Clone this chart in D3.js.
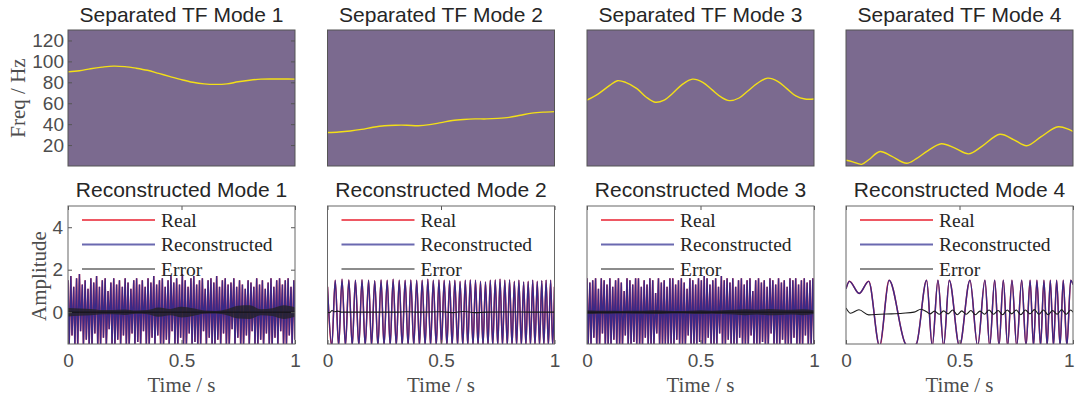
<!DOCTYPE html>
<html>
<head>
<meta charset="utf-8">
<script src="https://cdn.jsdelivr.net/npm/d3@7"></script>
<style>
body { margin: 0; background: #fff; }
svg { display: block; }
</style>
</head>
<body>
<div id="vis"></div>
<script>

// ---- data ----

// ridge (instantaneous frequency, Hz) of each separated mode
const ifT1 = [0,.05,.1,.15,.2,.25,.3,.35,.4,.45,.5,.55,.6,.65,.7,.75,.8,.85,.9,.95,1]
const ifF1 = [90,91,93,94.5,95.5,95,93.5,91.5,88.5,85.5,82.5,80,78.5,78,78.5,80.5,82,83,83.2,83.2,83]
const ifT2 = ifT1
const ifF2 = [32,32.5,33.5,35,37,38.5,39,39,38.5,39.5,41.5,43.5,44.5,45,45,45.5,46.5,48.5,50.5,51.5,52]
const ifT3 = [0,.05,.1,.134,.17,.22,.26,.3,.34,.38,.42,.465,.51,.55,.59,.627,.67,.71,.75,.796,.84,.88,.92,.96,1]
const ifF3 = [63,69,77,81.5,80,74,66,61,63,70,78,83,80,73,66,62.5,65,72,79,84,81,74,67,64,64]
const ifT4 = [0,.03,.069,.1,.15,.2,.267,.31,.36,.42,.48,.54,.6,.678,.74,.796,.86,.935,1]
const ifF4 = [5.5,4,1.6,6,13.8,9.5,2.6,7,14.5,21.3,17,11.6,19,30.3,25,19.4,28,37.5,33]

// mode 1 and 3 look like dense stripes: top / bottom of each stripe
const m1Hi = [1.5,1.7,1.2,1.6,1.8,1.3,1.5,1.1,1.6,1.4,
  1.7,1.2,1.5,1.6,1.0,1.4,1.6,1.3,1.5,1.2,
  1.6,1.4,1.1,1.5,1.6,1.3,1.5,1.2,1.6,1.4,
  1.7,1.3,1.5,1.6,1.2,1.5,1.7,1.4,1.6,1.3,
  1.8,1.5,1.2,1.6,1.7,1.3,1.5,1.6,1.1,1.5,
  1.6,1.4,1.7,1.2,1.5,1.6,1.3,1.4,1.6,1.2,
  1.5,1.3,1.1,1.5,1.4,1.2,1.6,1.3,1.5,1.1,
  1.4,1.6,1.2,1.5,1.6,1.3,1.5,1.6,1.2,1.5]
const m1Lo = [-1.6,-1.1,-1.6,-1.6,-0.9,-1.6,-1.3,-1.6,-1.6,-1.0,
  -1.6,-1.6,-1.2,-1.6,-0.8,-1.6,-1.6,-1.3,-1.6,-1.1,
  -1.6,-1.6,-1.0,-1.6,-1.4,-1.6,-0.9,-1.6,-1.6,-1.2,
  -1.6,-1.1,-1.6,-1.6,-1.3,-1.6,-0.9,-1.6,-1.6,-1.2,
  -1.6,-1.6,-1.0,-1.6,-1.4,-1.6,-1.6,-0.9,-1.6,-1.2,
  -1.6,-1.6,-1.3,-1.6,-1.0,-1.6,-1.6,-0.8,-1.6,-1.2,
  -1.6,-1.6,-1.1,-1.6,-0.9,-1.6,-1.6,-1.3,-1.6,-1.0,
  -1.6,-1.6,-1.2,-1.6,-0.9,-1.6,-1.6,-1.1,-1.6,-1.3]
const m3Hi = [1.6,1.4,1.5,1.6,1.1,1.6,1.5,1.3,1.6,1.2,
  1.5,1.6,1.4,1.0,1.6,1.5,1.3,1.6,1.6,1.2,
  1.5,1.3,1.6,1.5,0.9,1.6,1.4,1.5,1.2,1.6,
  1.6,1.3,1.5,1.6,1.4,1.1,1.6,1.5,1.3,1.6,
  1.5,1.7,1.6,1.3,1.5,1.6,1.2,1.7,1.5,1.6,
  1.4,1.6,1.2,1.5,1.6,1.3,1.5,1.6,1.0,1.5,
  1.6,1.4,1.5,1.2,1.6,1.5,1.3,1.6,1.4,1.5,
  1.2,1.6,1.5,1.6,1.3,1.5,1.6,1.4,1.5,1.6]
const m3Lo = [-1.6,-1.6,-1.2,-1.6,-1.6,-1.0,-1.6,-1.6,-1.6,-1.3,
  -1.6,-1.6,-1.6,-1.1,-1.6,-1.6,-1.4,-1.6,-1.6,-1.6,
  -1.2,-1.6,-1.6,-1.6,-1.0,-1.6,-1.6,-1.5,-1.6,-1.6,
  -1.6,-1.3,-1.6,-1.6,-1.6,-1.1,-1.6,-1.6,-1.6,-1.4,
  -1.6,-1.6,-1.2,-1.6,-1.6,-1.6,-1.0,-1.6,-1.6,-1.3,
  -1.6,-1.6,-1.6,-1.2,-1.6,-1.6,-1.6,-1.1,-1.6,-1.6,
  -1.6,-1.4,-1.6,-1.6,-1.0,-1.6,-1.6,-1.6,-1.3,-1.6,
  -1.6,-1.6,-1.2,-1.6,-1.6,-1.6,-1.1,-1.6,-1.6,-1.6]

// error envelopes of mode 1 and 3 (fast oscillating, drawn as a band)
const envT = [0,.05,.1,.15,.2,.25,.3,.35,.4,.45,.5,.55,.6,.65,.7,.75,.8,.85,.9,.95,1]
const m1Err = [.2,.17,.15,.1,.1,.13,.08,.1,.22,.15,.25,.18,.08,.06,.14,.3,.32,.14,.18,.32,.22]
const m3Err = [.09,.07,.07,.06,.07,.07,.09,.07,.06,.07,.09,.07,.09,.11,.14,.11,.15,.13,.11,.14,.09]

// mode 2: extrema of the reconstructed waveform
const m2T = [0,.019,.034,.049,.064,.079,.094,.109,.123,.138,.152,.166,.181,.194,.208,.222,.236,.249,.263,.276,
  .289,.303,.316,.329,.342,.355,.367,.380,.393,.405,.417,.430,.442,.454,.466,.479,.491,.502,.514,.526,
  .538,.549,.561,.573,.584,.596,.607,.618,.629,.641,.652,.663,.674,.685,.696,.707,.717,.728,.739,.750,
  .760,.771,.781,.792,.802,.813,.823,.833,.843,.854,.864,.874,.884,.894,.904,.914,.924,.934,.944,.953,
  .963,.973,.983,.992,1]
const m2V = [1.2,-1.6,1.5,-1.6,1.55,-1.6,1.52,-1.6,1.5,-1.6,1.53,-1.6,1.5,-1.6,1.48,-1.6,1.52,-1.6,1.5,-1.6,
  1.55,-1.6,1.5,-1.6,1.5,-1.6,1.52,-1.6,1.5,-1.6,1.5,-1.6,1.55,-1.6,1.5,-1.6,1.52,-1.6,1.5,-1.6,
  1.48,-1.6,1.5,-1.6,1.45,-1.6,1.5,-1.6,1.52,-1.6,1.5,-1.6,1.45,-1.6,1.42,-1.6,1.5,-1.6,1.52,-1.6,
  1.55,-1.6,1.5,-1.6,1.52,-1.6,1.45,-1.6,1.5,-1.6,1.42,-1.6,1.45,-1.6,1.5,-1.6,1.45,-1.6,1.48,-1.6,
  1.5,-1.6,1.5,-1.6,1.2]
const m2ErrT = [0,.01,.02,.03,.045,.06,.3,.35,.4,.5,.55,.6,.65,.7,.8,.9,1]
const m2ErrV = [0,-.02,.08,.02,.05,0,0,.02,0,.02,-.02,.03,-.02,0,.01,0,0]

// mode 4: extrema of the reconstructed waveform
const m4T = [0,.015,.058,.100,.148,.190,.262,.285,.310,.355,.380,.405,.430,.455,.500,.546,.580,.612,.633,.655,
  .674,.693,.712,.731,.752,.774,.793,.811,.826,.841,.857,.872,.886,.900,.914,.928,.943,.957,.973,.990,1]
const m4V = [1.1,1.45,0.88,1.45,-1.6,1.5,-1.5,-1.65,-1.5,1.5,-1.6,1.5,-1.6,1.5,-1.6,1.5,-1.6,1.5,-1.6,1.5,
  -1.6,1.5,-1.6,1.5,-1.6,1.5,-1.6,1.5,-1.6,1.5,-1.6,1.5,-1.6,1.5,-1.6,1.5,-1.6,1.5,-1.6,1.5,1.3]
const m4ErrT = [0,.02,.057,.1,.15,.2,.25,.3,.33,.355,.37,.39,.41,.43,.45,.47,.49,.51,.53,.55,.57,.59,.61,
  .63,.65,.67,.69,.71,.73,.75,.77,.79,.81,.83,.85,.87,.89,.91,.93,.95,.97,.99,1]
const m4ErrV = [.2,-.05,.11,-.13,-.1,-.08,-.05,0,.14,.02,-.08,.05,-.1,.06,-.08,.1,-.12,.06,-.1,.08,-.12,.05,-.1,
  .1,-.1,.08,-.12,.1,-.08,.1,-.12,.1,-.08,.12,-.1,.1,-.12,.08,-.1,.12,-.1,.1,0]

const topTitles = ["Separated TF Mode 1", "Separated TF Mode 2", "Separated TF Mode 3", "Separated TF Mode 4"]
const botTitles = ["Reconstructed Mode 1", "Reconstructed Mode 2", "Reconstructed Mode 3", "Reconstructed Mode 4"]
const legendNames = ["Real", "Reconstructed", "Error"]
const freqTicks = [20, 40, 60, 80, 100, 120]
const ampTicks = [0, 2, 4]
const timeTicks = [0, 0.5, 1]

// ---- layout ----
config = {}
config.width = 1075
config.height = 405
config.panelX = [68, 327.5, 587, 846]
config.panelW = 227
config.bg = "#7b6a8f"
config.ridge = "#f3df17"
config.red = "#e8202f"
config.blue = "#2b2a8e"
config.sans = "'Liberation Sans', Arial, sans-serif"
config.serif = "'Liberation Serif', 'Times New Roman', serif"

let ridges = [[ifT1, ifF1], [ifT2, ifF2], [ifT3, ifF3], [ifT4, ifF4]]
let modes = [
    {stripes: [m1Hi, m1Lo], env: m1Err},
    {t: m2T, v: m2V, errT: m2ErrT, errV: m2ErrV},
    {stripes: [m3Hi, m3Lo], env: m3Err},
    {t: m4T, v: m4V, errT: m4ErrT, errV: m4ErrV}
]

let yF = d3.scaleLinear().domain([0, 130]).range([166, 30])
let yA = d3.scaleLinear().domain([-1.5, 5]).range([344, 206])

let svg = d3.select("#vis").append("svg")
    .attr("width", config.width)
    .attr("height", config.height)
let defs = svg.append("defs")

function styleAxis(g, labels) {
    g.select(".domain").remove()
    g.selectAll("line").attr("stroke", "#555")
    g.selectAll("text")
        .attr("font-family", config.sans)
        .attr("font-size", 19)
        .attr("fill", "#4d4d4d")
    if (!labels) g.selectAll("text").remove()
}

config.panelX.forEach((x0, i) => {
    let x = d3.scaleLinear().domain([0, 1]).range([x0, x0 + config.panelW])

    // ---------- top: separated TF ----------
    defs.append("clipPath").attr("id", "ct" + i)
        .append("rect").attr("x", x0).attr("y", 30).attr("width", config.panelW).attr("height", 136)
    svg.append("rect")
        .attr("x", x0).attr("y", 30).attr("width", config.panelW).attr("height", 136)
        .attr("fill", config.bg)
    let [rt, rf] = ridges[i]
    svg.append("path")
        .attr("clip-path", `url(#ct${i})`)
        .attr("d", d3.line().x((d, j) => x(rt[j])).y(d => yF(d)).curve(d3.curveCatmullRom)(rf))
        .attr("fill", "none")
        .attr("stroke", config.ridge)
        .attr("stroke-width", 1.4)
    if (i == 0) {
        svg.append("g").attr("transform", `translate(${x0},0)`)
            .call(d3.axisLeft(yF).tickValues(freqTicks).tickSize(-4).tickPadding(4))
            .call(g => styleAxis(g, true))
        svg.append("g").attr("transform", `translate(${x0 + config.panelW},0)`)
            .call(d3.axisRight(yF).tickValues(freqTicks).tickSize(-4))
            .call(g => styleAxis(g, false))
    }
    svg.append("rect")
        .attr("x", x0).attr("y", 30).attr("width", config.panelW).attr("height", 136)
        .attr("fill", "none").attr("stroke", "#555").attr("stroke-width", 1)
    svg.append("text")
        .attr("x", x0 + config.panelW / 2).attr("y", 22)
        .attr("text-anchor", "middle")
        .attr("font-family", config.sans).attr("font-size", 21).attr("fill", "#262626")
        .text(topTitles[i])

    // ---------- bottom: reconstructed mode ----------
    defs.append("clipPath").attr("id", "cb" + i)
        .append("rect").attr("x", x0).attr("y", 206).attr("width", config.panelW).attr("height", 138)
    let plot = svg.append("g").attr("clip-path", `url(#cb${i})`)
    let m = modes[i]
    let sigPath
    if (m.stripes) {
        let [hi, lo] = m.stripes
        let pts = hi.flatMap((h, j) => [[j, h], [j + 0.4, lo[j]]])
        let xi = d3.scaleLinear().domain([0, hi.length - 0.6]).range([x0, x0 + config.panelW])
        sigPath = d3.line().x(d => xi(d[0])).y(d => yA(d[1]))(pts)
    } else {
        sigPath = d3.line().x((d, j) => x(m.t[j])).y(d => yA(d)).curve(d3.curveMonotoneX)(m.v)
    }
    plot.append("path").attr("d", sigPath)
        .attr("fill", "none").attr("stroke", config.red).attr("stroke-width", 1.5)
    plot.append("path").attr("d", sigPath)
        .attr("fill", "none").attr("stroke", config.blue).attr("stroke-opacity", 0.92).attr("stroke-width", 1.4)
    if (m.env) {
        plot.append("path")
            .attr("d", d3.area().x((d, j) => x(envT[j])).y0(d => yA(-d)).y1(d => yA(d))
                .curve(d3.curveMonotoneX)(m.env))
            .attr("fill", "#222").attr("fill-opacity", 0.75)
        plot.append("path")
            .attr("d", d3.line().x(d => x(d)).y(yA(0))(envT))
            .attr("stroke", "#111").attr("stroke-width", 1)
    } else {
        plot.append("path")
            .attr("d", d3.line().x((d, j) => x(m.errT[j])).y(d => yA(d)).curve(d3.curveMonotoneX)(m.errV))
            .attr("fill", "none").attr("stroke", "#1a1a1a").attr("stroke-width", 1.1)
    }

    // legend
    let legendStyle = [
        {stroke: config.red, op: 1, w: 1.3},
        {stroke: config.blue, op: 0.7, w: 2},
        {stroke: "#1a1a1a", op: 1, w: 1.2}
    ]
    legendNames.forEach((name, j) => {
        let ly = 220 + j * 24.5
        svg.append("line")
            .attr("x1", x0 + 14).attr("x2", x0 + 87).attr("y1", ly).attr("y2", ly)
            .attr("stroke", legendStyle[j].stroke)
            .attr("stroke-opacity", legendStyle[j].op)
            .attr("stroke-width", legendStyle[j].w)
        svg.append("text")
            .attr("x", x0 + 93).attr("y", ly + 6.5)
            .attr("font-family", config.serif).attr("font-size", 19.5).attr("fill", "#262626")
            .text(name)
    })

    // axes
    svg.append("g").attr("transform", "translate(0,344)")
        .call(d3.axisBottom(x).tickValues(timeTicks).tickFormat(d3.format("")).tickSize(-4).tickPadding(10))
        .call(g => styleAxis(g, true))
        .call(g => {
            // keep the last "1" inside the page
            if (i == 3) g.selectAll(".tick").filter(d => d == 1).select("text")
                .attr("text-anchor", "end").attr("dx", 1)
        })
    svg.append("g").attr("transform", "translate(0,206)")
        .call(d3.axisTop(x).tickValues(timeTicks).tickSize(-4))
        .call(g => styleAxis(g, false))
    if (i == 0) {
        svg.append("g").attr("transform", `translate(${x0},0)`)
            .call(d3.axisLeft(yA).tickValues(ampTicks).tickFormat(d3.format("d")).tickSize(-4).tickPadding(5))
            .call(g => styleAxis(g, true))
        svg.append("g").attr("transform", `translate(${x0 + config.panelW},0)`)
            .call(d3.axisRight(yA).tickValues(ampTicks).tickSize(-4))
            .call(g => styleAxis(g, false))
    }
    svg.append("rect")
        .attr("x", x0).attr("y", 206).attr("width", config.panelW).attr("height", 138)
        .attr("fill", "none").attr("stroke", "#666").attr("stroke-width", 1)
    svg.append("text")
        .attr("x", x0 + config.panelW / 2).attr("y", 197)
        .attr("text-anchor", "middle")
        .attr("font-family", config.sans).attr("font-size", 21).attr("fill", "#262626")
        .text(botTitles[i])
    svg.append("text")
        .attr("x", x0 + config.panelW / 2).attr("y", 392)
        .attr("text-anchor", "middle")
        .attr("font-family", config.serif).attr("font-size", 21).attr("fill", "#4d4d4d")
        .text("Time / s")
})

// y labels
svg.append("text")
    .attr("transform", "translate(17.5,98) rotate(-90)")
    .attr("text-anchor", "middle").attr("dy", "0.35em")
    .attr("font-family", config.serif).attr("font-size", 21).attr("fill", "#4d4d4d")
    .text("Freq / Hz")
svg.append("text")
    .attr("transform", "translate(39,276) rotate(-90)")
    .attr("text-anchor", "middle").attr("dy", "0.35em")
    .attr("font-family", config.serif).attr("font-size", 21).attr("fill", "#4d4d4d")
    .text("Amplitude")

</script>
</body>
</html>
